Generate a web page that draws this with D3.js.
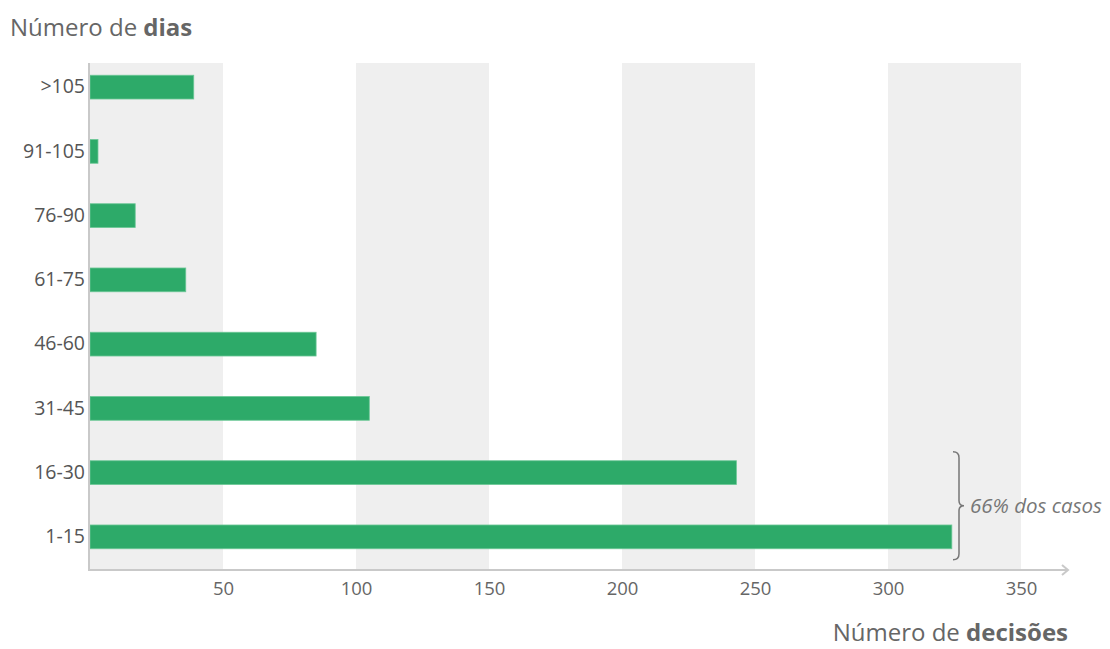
<!DOCTYPE html>
<html><head><meta charset="utf-8">
<script src="https://cdn.jsdelivr.net/npm/d3@7"></script>
<style>
body{margin:0;background:#fff;}
svg{display:block;font-family:"Open Sans",sans-serif;}
</style></head>
<body><svg id="c" width="1110" height="649"></svg>
<script>
const categories = [">105","91-105","76-90","61-75","46-60","31-45","16-30","1-15"];
const values = [39, 3, 17, 36, 85, 105, 243, 324];
const xTicks = [50,100,150,200,250,300,350];
const bands = [[0,50],[100,150],[200,250],[300,350]];
const yTitle = ["Número de ", "dias"];
const xTitle = ["Número de ", "decisões"];
const note = "66% dos casos";

const svg = d3.select("#c");
const x = d3.scaleLinear().domain([0,350]).range([90,1021]);
const y = d3.scaleBand().domain(categories).range([55,569]).paddingInner(0.63).paddingOuter(0.315);
const plotTop = 63, plotBottom = 570;

// background bands
svg.append("g").selectAll("rect").data(bands).join("rect")
  .attr("x", d=>x(d[0])).attr("width", d=>x(d[1])-x(d[0]))
  .attr("y", plotTop).attr("height", plotBottom-plotTop).attr("fill","#efefef");

// bars
svg.append("g").selectAll("rect").data(values).join("rect")
  .attr("x", x(0)).attr("y",(d,i)=>y(categories[i]))
  .attr("width", d=>x(d)-x(0)).attr("height", y.bandwidth())
  .attr("fill","#2daa69").attr("stroke","#6cc796").attr("stroke-width",0.8);

// y axis line
svg.append("line").attr("x1",89).attr("x2",89).attr("y1",plotTop).attr("y2",plotBottom+1)
  .attr("stroke","#c9c9c9").attr("stroke-width",2);
// x axis line + arrow
svg.append("line").attr("x1",88).attr("x2",1067).attr("y1",plotBottom).attr("y2",plotBottom)
  .attr("stroke","#c9c9c9").attr("stroke-width",2);
svg.append("path").attr("d",`M1062,${plotBottom-5} L1068,${plotBottom} L1062,${plotBottom+5}`)
  .attr("fill","none").attr("stroke","#c9c9c9").attr("stroke-width",2);

// x axis ticks via d3 axis
const xa = svg.append("g").attr("transform",`translate(0,${plotBottom})`)
  .call(d3.axisBottom(x).tickValues(xTicks).tickSize(0).tickPadding(12));
xa.select(".domain").remove();
xa.selectAll("text").attr("font-size",18.5).attr("fill","#666").attr("font-family","Open Sans, sans-serif");

// y axis labels
const ya = svg.append("g").attr("transform","translate(85,0)")
  .call(d3.axisLeft(y).tickSize(0).tickPadding(0));
ya.select(".domain").remove();
ya.selectAll("text").attr("font-size",19.5).attr("fill","#555").attr("font-family","Open Sans, sans-serif");

// titles
const t1 = svg.append("text").attr("x",10).attr("y",36).attr("font-size",24).attr("fill","#666");
t1.append("tspan").text(yTitle[0]);
t1.append("tspan").attr("font-weight","bold").text(yTitle[1]);
const t2 = svg.append("text").attr("x",1068).attr("y",641).attr("text-anchor","end").attr("font-size",24).attr("fill","#666");
t2.append("tspan").text(xTitle[0]);
t2.append("tspan").attr("font-weight","bold").text(xTitle[1]);

// brace
const by0 = y("16-30") - 9, by1 = y("1-15") + y.bandwidth() + 11, bm = (by0+by1)/2, bx = 953;
svg.append("path")
  .attr("d",`M${bx},${by0} Q${bx+6},${by0} ${bx+6},${by0+6} L${bx+6},${bm-5} Q${bx+6},${bm} ${bx+11},${bm} Q${bx+6},${bm} ${bx+6},${bm+5} L${bx+6},${by1-6} Q${bx+6},${by1} ${bx},${by1}`)
  .attr("fill","none").attr("stroke","#777").attr("stroke-width",1.5);
svg.append("text").attr("x",970).attr("y",bm+7).attr("font-size",20.5).attr("font-style","italic")
  .attr("fill","#777").text(note);
</script></body></html>
